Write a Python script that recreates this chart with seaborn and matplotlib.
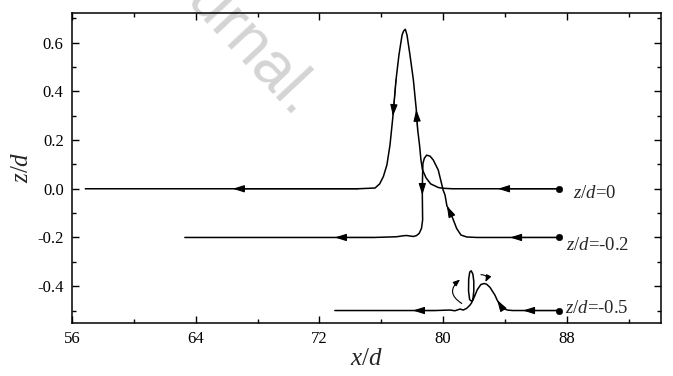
import numpy as np
import pandas as pd
import matplotlib
matplotlib.use("Agg")
import matplotlib.pyplot as plt
import seaborn as sns
from matplotlib.ticker import MultipleLocator, FormatStrFormatter
from matplotlib.patches import FancyArrowPatch

# ---- data ----
labels = ["$z/d$=0", "$z/d$=-0.2", "$z/d$=-0.5"]

x_z0 = [87.5, 83.55, 80.6, 80.0, 79.7, 79.2, 78.9, 78.67, 78.57, 78.48, 78.36, 78.27,
        78.08, 77.86, 77.67, 77.56, 77.45, 77.35, 77.15, 76.96, 76.76, 76.57, 76.37,
        76.14, 75.9, 75.6, 74.5, 66.4, 56.86]
z_z0 = [0.0, 0.0, 0.0, 0.002, 0.005, 0.02, 0.045, 0.078, 0.119, 0.18, 0.242, 0.325,
        0.448, 0.55, 0.631, 0.655, 0.648, 0.631, 0.55, 0.448, 0.298, 0.18, 0.098,
        0.05, 0.02, 0.003, 0.0, 0.0, 0.0]
arrows_z0 = [1, 11, 20, 27]

x_z02 = [87.5, 84.33, 82.2, 81.53, 81.16, 80.88, 80.62, 80.4, 80.25, 80.13, 80.01,
         79.69, 79.37, 79.16, 78.94, 78.79, 78.70, 78.68, 78.66, 78.66, 78.68, 78.61,
         78.46, 78.29, 78.08, 77.65, 77.43, 77.0, 76.57, 75.5, 73.0, 63.3]
z_z02 = [-0.2, -0.2, -0.2, -0.198, -0.19, -0.163, -0.12, -0.09, -0.07, -0.026, -0.006,
         0.077, 0.118, 0.134, 0.138, 0.125, 0.104, 0.063, 0.0, -0.026, -0.128, -0.162,
         -0.183, -0.192, -0.196, -0.192, -0.193, -0.197, -0.198, -0.2, -0.2, -0.2]
arrows_z02 = [1, 8, 19, 30]

x_z05 = [87.5, 85.17, 84.5, 84.16, 83.86, 83.64, 83.5, 83.36, 83.04, 82.82, 82.67,
         82.45, 82.22, 82.05, 81.95, 81.85, 81.72, 81.65, 81.66, 81.73, 81.82, 81.93,
         81.99, 81.99, 81.93, 81.85, 81.74, 81.53, 81.31, 81.1, 80.77, 80.45, 79.5,
         78.05, 73.0]
z_z05 = [-0.5, -0.5, -0.5, -0.498, -0.491, -0.471, -0.457, -0.437, -0.405, -0.392,
         -0.389, -0.393, -0.414, -0.44, -0.455, -0.462, -0.455, -0.42, -0.37, -0.342,
         -0.337, -0.35, -0.38, -0.42, -0.455, -0.468, -0.478, -0.491, -0.498, -0.494,
         -0.501, -0.498, -0.5, -0.5, -0.5]
arrows_z05 = [1, 6, 33]

label_x = [88.43, 87.95, 87.9]
label_z = [-0.018, -0.233, -0.49]

# rotation hint arrows near the vortex (start x, start z, end x, end z)
swirl_x0 = [81.21, 82.45]
swirl_z0 = [-0.471, -0.353]
swirl_x1 = [81.10, 82.74]
swirl_z1 = [-0.3725, -0.383]

# ---- style ----
sns.set_theme(style="ticks")
plt.rcParams["font.family"] = ["Liberation Serif", "DejaVu Serif"]
plt.rcParams["mathtext.fontset"] = "custom"
plt.rcParams["mathtext.rm"] = "Liberation Serif"
plt.rcParams["mathtext.it"] = "Liberation Serif:italic"
plt.rcParams["axes.unicode_minus"] = False

fig = plt.figure(figsize=(6.73, 3.76), dpi=100)
ax = fig.add_axes([72 / 673, 1 - 322.7 / 376, (660.7 - 72) / 673, (322.7 - 12.7) / 376])

# watermark
ax.text(294 / 673, 1 - 118 / 376, "Journal.", transform=fig.transFigure,
        family="Liberation Sans", fontsize=46, color="#d4d4d4", rotation=-47,
        rotation_mode="anchor", ha="right", va="baseline", zorder=0.5, clip_on=False)

trajs = [(x_z0, z_z0, arrows_z0), (x_z02, z_z02, arrows_z02), (x_z05, z_z05, arrows_z05)]
for xs, zs, arr in trajs:
    df = pd.DataFrame({"x": xs, "z": zs})
    sns.lineplot(data=df, x="x", y="z", sort=False, estimator=None, color="black",
                 linewidth=1.1, ax=ax)
    for i in arr:
        ax.annotate("", xy=(xs[i], zs[i]), xytext=(xs[i - 1], zs[i - 1]),
                    arrowprops=dict(arrowstyle="-|>,head_length=0.7,head_width=0.22",
                                    color="black", lw=0.8, shrinkA=0, shrinkB=0,
                                    mutation_scale=10))

starts = pd.DataFrame({"x": [t[0][0] for t in trajs], "z": [t[1][0] for t in trajs]})
sns.scatterplot(data=starts, x="x", y="z", color="black", s=22, edgecolor="black",
                ax=ax, zorder=5)

for lx, lz, lab in zip(label_x, label_z, labels):
    ax.text(lx, lz, lab, fontsize=13.5, ha="left", va="center")

for k, rad in enumerate([-0.67, -0.8]):
    ap = FancyArrowPatch((swirl_x0[k], swirl_z0[k]), (swirl_x1[k], swirl_z1[k]),
                         connectionstyle=f"arc3,rad={rad}",
                         arrowstyle="-|>,head_length=0.5,head_width=0.2",
                         mutation_scale=8, color="black", lw=0.8,
                         shrinkA=0, shrinkB=0)
    ax.add_patch(ap)

ax.set_xlim(56, 94.08)
ax.set_ylim(-0.55, 0.723)
ax.xaxis.set_major_locator(MultipleLocator(8))
ax.xaxis.set_minor_locator(MultipleLocator(4))
ax.yaxis.set_major_locator(MultipleLocator(0.2))
ax.yaxis.set_minor_locator(MultipleLocator(0.1))
ax.yaxis.set_major_formatter(FormatStrFormatter("%.1f"))
ax.tick_params(which="both", direction="in", top=True, right=True, width=1.0,
               labelsize=12, colors="black")
ax.tick_params(which="major", length=5, pad=6)
ax.tick_params(which="minor", length=3)
for s in ax.spines.values():
    s.set_linewidth(1.1)
    s.set_color("black")

ax.set_xlabel("$x/d$", fontsize=18, labelpad=1)
ax.set_ylabel("$z/d$", fontsize=18, labelpad=3)

fig.savefig("out.png", dpi=100)
